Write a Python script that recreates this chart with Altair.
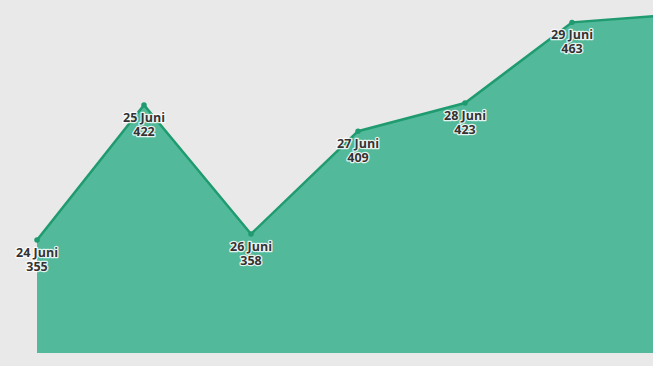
import altair as alt
import pandas as pd

days = ["24 Juni", "25 Juni", "26 Juni", "27 Juni", "28 Juni", "29 Juni", "30 Juni"]
values = [355, 422, 358, 409, 423, 463, 467]

df = pd.DataFrame({"idx": list(range(len(days))), "day": days, "value": values})

x = alt.X("idx:Q", axis=None, scale=alt.Scale(domain=[-0.3458, 5.757], nice=False, zero=False))
y = alt.Y("value:Q", axis=None, scale=alt.Scale(domain=[292.5, 474.1], nice=False, zero=False))

base = alt.Chart(df).encode(x=x, y=y)

area = base.mark_area(color="#52b99a", opacity=1, clip=True).encode(y2=alt.datum(299))
line = base.mark_line(color="#1f9b6f", strokeWidth=2.5, clip=True)
pts = base.mark_circle(color="#1f9b6f", size=30, opacity=1, clip=True)

font = "Open Sans"
def lbl(field, dy, halo):
    kw = dict(font=font, fontSize=12.5, fontWeight="bold", baseline="middle", align="center", dy=dy, clip=True)
    if halo:
        kw.update(stroke="white", strokeWidth=2.5, strokeOpacity=0.85, fill="white", strokeJoin="round")
    else:
        kw.update(fill="#333333")
    return base.mark_text(**kw).encode(text=alt.Text(field)).transform_filter("datum.value < 465")

chart = alt.layer(
    area, line, pts,
    lbl("day:N", 13, True), lbl("value:Q", 27, True),
    lbl("day:N", 13, False), lbl("value:Q", 27, False),
).properties(width=653, height=366, autosize=alt.AutoSizeParams(type="none"), padding=0
).configure(background="#e9e9e9").configure_view(stroke=None)

chart.save("out.html", embed_options={"renderer": "svg", "actions": False})
